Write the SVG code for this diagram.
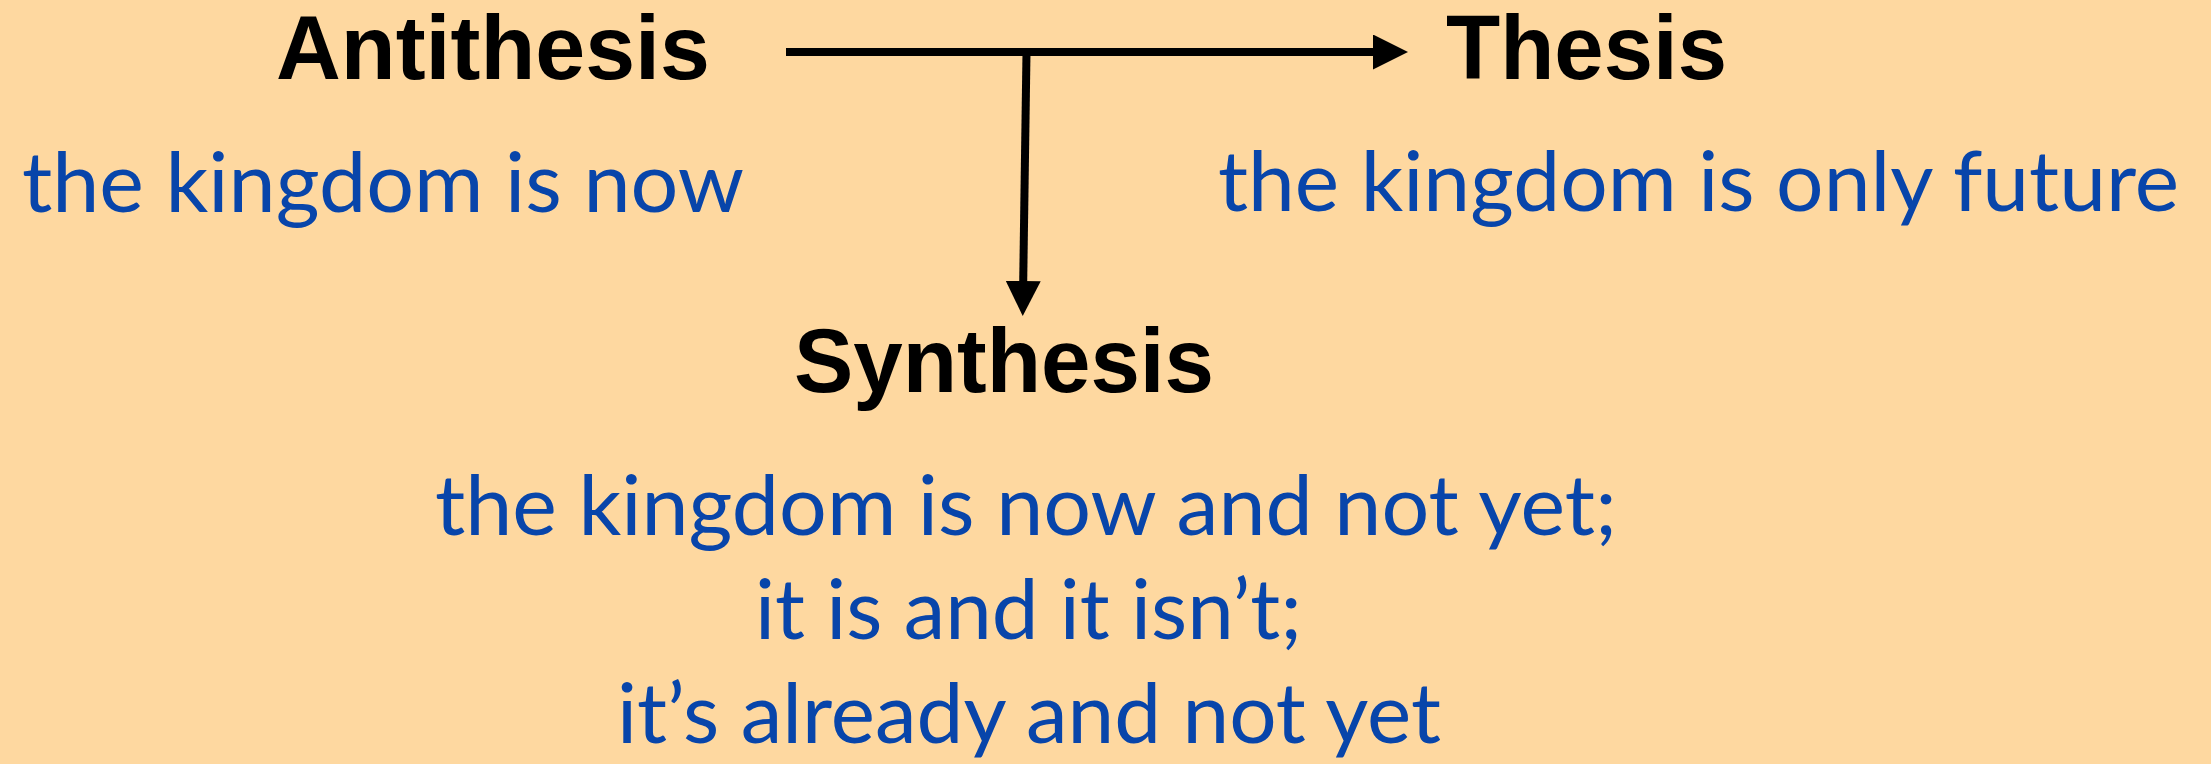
<svg xmlns="http://www.w3.org/2000/svg" width="2211" height="764" viewBox="0 0 2211 764">
<style>
.h{font-family:"Liberation Sans",Arial,sans-serif;font-weight:bold;font-size:90px;fill:#000}
.b{font-family:Lato,"Open Sans",sans-serif;font-size:84px;fill:#0845aa}
.c{stroke:#000;stroke-width:8;fill:none}
</style>
<defs>
<marker id="ah" markerUnits="userSpaceOnUse" markerWidth="35" markerHeight="35" viewBox="0 0 35 35" refX="1" refY="17.5" orient="auto">
<path d="M0,0 L35,17.5 L0,35 Z" fill="#000"/>
</marker>
</defs>
<rect width="2211" height="764" fill="#fed8a0"/>
<g id="connectors">
<path class="c" d="M786,52 L1374,52" marker-end="url(#ah)"/>
<path class="c" d="M1026.5,52 L1023.2,282" marker-end="url(#ah)"/>
</g>
<g id="antithesis">
<text class="h" x="276" y="79" textLength="434" lengthAdjust="spacingAndGlyphs">Antithesis</text>
<text class="b" x="22" y="212" textLength="722" lengthAdjust="spacingAndGlyphs">the kingdom is now</text>
</g>
<g id="thesis">
<text class="h" x="1446" y="79" textLength="281" lengthAdjust="spacingAndGlyphs">Thesis</text>
<text class="b" x="1218" y="211" textLength="961" lengthAdjust="spacingAndGlyphs">the kingdom is only future</text>
</g>
<g id="synthesis">
<text class="h" x="794" y="392" textLength="420" lengthAdjust="spacingAndGlyphs">Synthesis</text>
<text class="b" x="435" y="535" textLength="1182" lengthAdjust="spacingAndGlyphs">the kingdom is now and not yet;</text>
<text class="b" x="755" y="639" textLength="547" lengthAdjust="spacingAndGlyphs">it is and it isn’t;</text>
<text class="b" x="617" y="743" textLength="824" lengthAdjust="spacingAndGlyphs">it’s already and not yet</text>
</g>
</svg>
